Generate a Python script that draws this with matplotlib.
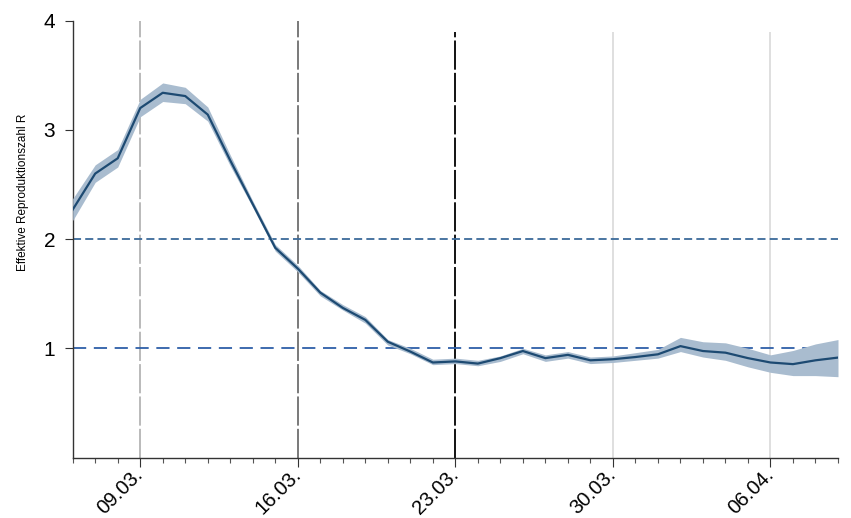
import numpy as np
import pandas as pd
import matplotlib
matplotlib.use("Agg")
import matplotlib.pyplot as plt
import matplotlib.dates as mdates
from matplotlib.transforms import ScaledTranslation

plt.rcParams['font.family'] = ['Liberation Sans', 'DejaVu Sans']
plt.rcParams['lines.scale_dashes'] = False

# Daten: effektive Reproduktionszahl R mit Unsicherheitsband
dates = pd.date_range('2020-03-06', '2020-04-09', freq='D')
r_mean = [2.27, 2.60, 2.74, 3.20, 3.34, 3.31, 3.14, 2.72, 2.32, 1.92,
          1.73, 1.51, 1.37, 1.26, 1.06, 0.97, 0.87, 0.88, 0.86, 0.91,
          0.975, 0.91, 0.94, 0.89, 0.90, 0.92, 0.945, 1.02, 0.975, 0.96,
          0.91, 0.87, 0.855, 0.89, 0.915]
r_low = [2.17, 2.52, 2.66, 3.12, 3.26, 3.24, 3.08, 2.67, 2.29, 1.89,
         1.70, 1.48, 1.35, 1.23, 1.03, 0.95, 0.85, 0.86, 0.84, 0.88,
         0.95, 0.88, 0.91, 0.86, 0.87, 0.89, 0.91, 0.97, 0.92, 0.89,
         0.83, 0.78, 0.75, 0.75, 0.74]
r_high = [2.37, 2.68, 2.82, 3.28, 3.43, 3.39, 3.21, 2.77, 2.35, 1.95,
          1.76, 1.53, 1.40, 1.29, 1.08, 1.00, 0.90, 0.91, 0.89, 0.93,
          1.00, 0.94, 0.97, 0.92, 0.93, 0.96, 0.99, 1.10, 1.06, 1.05,
          1.00, 0.94, 0.98, 1.04, 1.08]

# Ereignisse (senkrechte Linien)
event_dates = ['2020-03-09', '2020-03-16', '2020-03-23']
event_colors = ['#b4b4b4', '#6e6e6e', '#000000']
event_tops = [4.0, 4.0, 3.9]
grid_dates = ['2020-03-30', '2020-04-06']

fig = plt.figure(figsize=(8.51, 5.18), dpi=100)
ax = fig.add_axes([72.7 / 851, 1 - 457.5 / 518, (838 - 72.7) / 851, (457.5 - 20.7) / 518])

for d in grid_dates:
    ax.vlines(pd.Timestamp(d), 0, 3.9, color='#dcdcdc', lw=1.3, zorder=1)
for d, c, top in zip(event_dates, event_colors, event_tops):
    ax.vlines(pd.Timestamp(d), 0, top, color=c, lw=1.3, linestyles=[(0, (21, 2.3))], zorder=1)

ax.axhline(2, color='#3b6a9a', lw=1.3, dashes=(5.8, 3), zorder=2)
ax.axhline(1, color='#2e5fa8', lw=1.3, dashes=(9.5, 5.5), zorder=2)

ax.fill_between(dates, r_low, r_high, color='#a9bccf', lw=0, zorder=3)
ax.plot(dates, r_mean, color='#1d4a72', lw=1.6, zorder=4)

ax.set_xlim(dates[0], dates[-1])
ax.set_ylim(0, 4)
ax.set_yticks([1, 2, 3, 4])

ax.xaxis.set_major_locator(mdates.WeekdayLocator(byweekday=mdates.MO))
ax.xaxis.set_minor_locator(mdates.DayLocator())
ax.xaxis.set_major_formatter(mdates.DateFormatter('%d.%m.'))

for s in ['top', 'right']:
    ax.spines[s].set_visible(False)
for s in ['left', 'bottom']:
    ax.spines[s].set_linewidth(1.0)
    ax.spines[s].set_color('#333333')

ax.tick_params(axis='y', length=5.5, width=0.8, color='#333333', labelsize=15, pad=7)
ax.tick_params(axis='x', which='major', length=6.5, width=0.8, color='#333333', labelsize=14.5, pad=6.5)
ax.tick_params(axis='x', which='minor', length=3.5, width=0.8, color='#555555')

ax.set_ylabel('Effektive Reproduktionszahl R', fontsize=8.5)
ax.yaxis.set_label_coords(-0.057, 0.608)

fig.canvas.draw()
shift = ScaledTranslation(4 / 100, 0, fig.dpi_scale_trans)
for lbl in ax.get_xticklabels():
    lbl.set_rotation(45)
    lbl.set_ha('right')
    lbl.set_va('baseline')
    lbl.set_rotation_mode('anchor')
    lbl.set_transform(lbl.get_transform() + shift)

fig.savefig('out.png', dpi=100)
